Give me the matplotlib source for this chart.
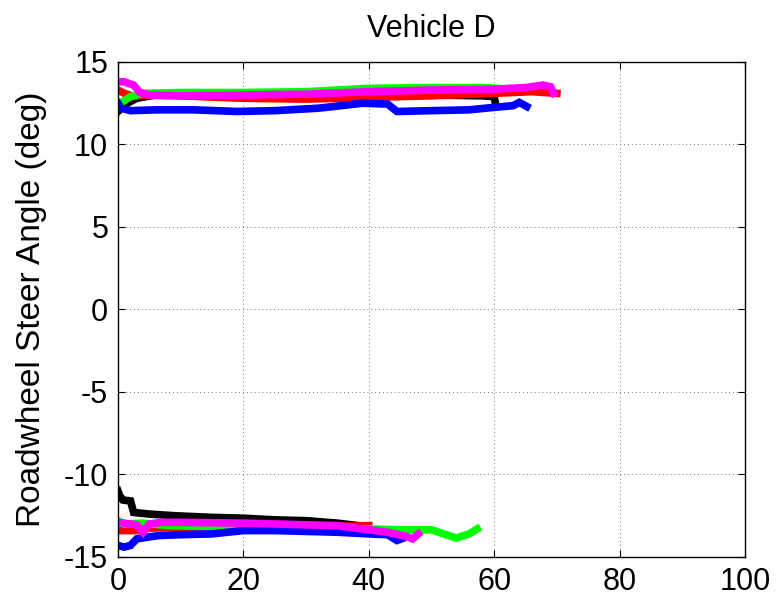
import matplotlib
matplotlib.use("Agg")
import matplotlib.pyplot as plt

plt.rcParams["font.family"] = ["Liberation Sans", "DejaVu Sans"]
plt.rcParams["axes.unicode_minus"] = False

# upper group (right turn), time in s, angle in deg
black_up_t = [0, 0.5, 1.5, 3, 6, 15, 30, 44, 50, 58, 60, 60.3]
black_up_v = [12.0, 12.2, 12.5, 12.8, 13.0, 13.0, 13.0, 13.0, 13.0, 12.95, 12.9, 12.3]
red_up_t = [0, 1, 2.5, 4, 10, 20, 30, 40, 50, 60, 66, 70]
red_up_v = [13.3, 13.1, 12.9, 13.0, 12.95, 12.8, 12.75, 12.85, 12.95, 13.1, 13.2, 13.1]
green_up_t = [0, 0.8, 2, 4, 10, 20, 30, 40, 50, 58, 60.5]
green_up_v = [12.5, 12.6, 12.9, 13.1, 13.15, 13.15, 13.2, 13.4, 13.45, 13.45, 13.4]
blue_up_t = [0, 0.5, 2, 6, 12, 19, 25, 32, 39, 43, 44.5, 50, 56, 60, 63, 64, 65.2]
blue_up_v = [12.5, 12.2, 12.05, 12.1, 12.1, 12.0, 12.05, 12.2, 12.5, 12.45, 12.0, 12.05, 12.1, 12.25, 12.35, 12.55, 12.3]
mag_up_t = [0, 1, 2.5, 3.5, 5, 10, 20, 30, 40, 50, 60, 65, 67.8, 69, 69.5]
mag_up_v = [13.8, 13.8, 13.6, 13.15, 13.0, 12.95, 13.0, 13.05, 13.2, 13.3, 13.35, 13.45, 13.6, 13.5, 13.1]

# lower group (left turn)
black_lo_t = [0, 0.3, 0.8, 2.0, 2.5, 5, 9, 15, 20, 25, 30, 35, 39.5]
black_lo_v = [-11.0, -11.3, -11.55, -11.6, -12.3, -12.4, -12.5, -12.6, -12.65, -12.75, -12.8, -12.95, -13.15]
red_lo_t = [0, 1, 3.5, 5, 10, 20, 30, 40]
red_lo_v = [-13.4, -13.4, -13.4, -13.25, -13.2, -13.15, -13.2, -13.1]
green_lo_t = [0, 1, 4, 8, 15, 20, 30, 40, 45, 50, 52, 54, 56, 57.3]
green_lo_v = [-12.8, -13.0, -12.95, -13.1, -13.15, -13.15, -13.3, -13.3, -13.35, -13.35, -13.6, -13.85, -13.6, -13.3]
blue_lo_t = [0, 1, 2, 3, 6.5, 10, 15, 20, 25, 30, 35, 40, 43, 44.5, 45.2]
blue_lo_v = [-14.3, -14.4, -14.3, -13.9, -13.7, -13.65, -13.6, -13.4, -13.4, -13.45, -13.5, -13.6, -13.65, -14.0, -13.9]
mag_lo_t = [0, 2, 3, 4, 5, 7, 10, 20, 30, 35, 40, 43, 46, 47, 47.9]
mag_lo_v = [-12.9, -13.0, -13.05, -13.5, -13.0, -12.9, -12.9, -12.95, -13.05, -13.1, -13.35, -13.5, -13.75, -13.9, -13.6]

series = [
    ("#000000", black_up_t, black_up_v, black_lo_t, black_lo_v),
    ("#ff0000", red_up_t, red_up_v, red_lo_t, red_lo_v),
    ("#00ff00", green_up_t, green_up_v, green_lo_t, green_lo_v),
    ("#0000ff", blue_up_t, blue_up_v, blue_lo_t, blue_lo_v),
    ("#ff00ff", mag_up_t, mag_up_v, mag_lo_t, mag_lo_v),
]

fig = plt.figure(figsize=(7.76, 6.0), dpi=100)
ax = fig.add_axes([0.152, 0.0717, 0.808, 0.825])

for color, tu, vu, tl, vl in series:
    ax.plot(tu, vu, color=color, lw=5.5, solid_joinstyle="miter")
    ax.plot(tl, vl, color=color, lw=5.5, solid_joinstyle="miter")

ax.set_xlim(0, 100)
ax.set_ylim(-15, 15)
ax.set_xticks([0, 20, 40, 60, 80, 100])
ax.set_yticks([-15, -10, -5, 0, 5, 10, 15])
ax.grid(True, ls=(0, (1, 3)), color="#777777", lw=0.7)
ax.tick_params(direction="in", top=True, right=True, labelsize=22, length=5, pad=7)
ax.set_title("Vehicle D", fontsize=22, pad=18)
ax.set_ylabel("Roadwheel Steer Angle (deg)", fontsize=24, labelpad=12)
for s in ax.spines.values():
    s.set_linewidth(1.0)

fig.savefig("out.png", dpi=100)
